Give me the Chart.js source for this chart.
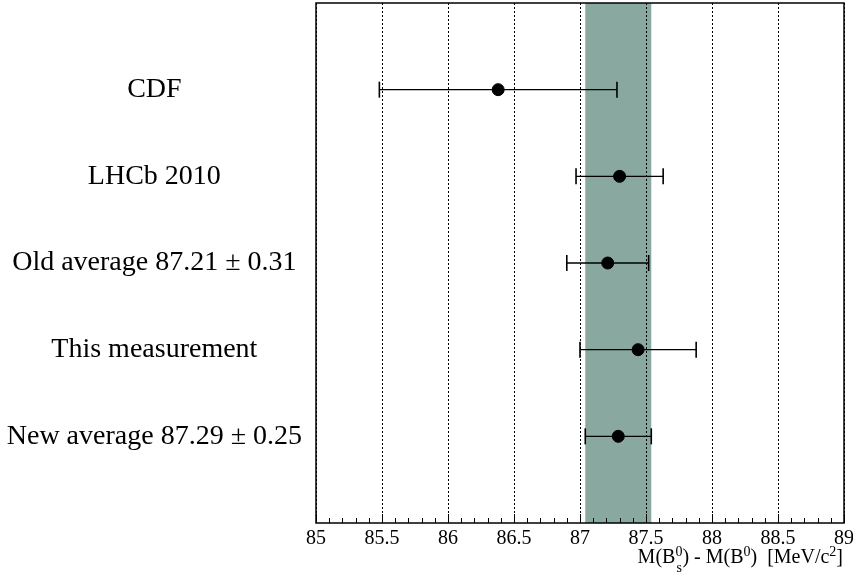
<!DOCTYPE html>
<html>
<head>
<meta charset="utf-8">
<script src="https://cdn.jsdelivr.net/npm/chart.js@4.4.1/dist/chart.umd.min.js"></script>
<style>
  html, body { margin: 0; padding: 0; background: #fff; }
  #wrap { width: 853px; height: 576px; }
</style>
</head>
<body>
<div id="wrap"><canvas id="grafico"></canvas></div>
<script>
// datos
const etiquetas = ['CDF', 'LHCb 2010', 'Old average 87.21 \u00b1 0.31', 'This measurement', 'New average 87.29 \u00b1 0.25'];
const valores = [86.38, 87.30, 87.21, 87.44, 87.29];
const errores = [0.90, 0.33, 0.31, 0.44, 0.25];
const filas = [1, 2, 3, 4, 5];
const banda = [87.04, 87.54];
const marcasX = [85, 85.5, 86, 86.5, 87, 87.5, 88, 88.5, 89];

const serif = "'Liberation Serif', 'DejaVu Serif', serif";

// barras de error: un dataset por medida
const barrasError = valores.map((v, i) => ({
    type: 'line',
    data: [{ x: v - errores[i], y: filas[i] }, { x: v + errores[i], y: filas[i] }],
    borderColor: '#000',
    borderWidth: 1.3,
    pointStyle: 'line',
    rotation: 90,
    pointRadius: 8,
    pointBorderWidth: 1.6,
    pointBorderColor: '#000',
    fill: false,
    order: 2
}));

const puntos = {
    type: 'scatter',
    data: valores.map((v, i) => ({ x: v, y: filas[i] })),
    backgroundColor: '#000',
    borderColor: '#000',
    pointRadius: 6,
    order: 1
};

// texto con sub y superindices
function dibujarTitulo(ctx, xDerecha, base) {
    const partes = [
        ['M(B', 0], ['0', 1], [') - M(B', 0], ['0', 1], [')  [MeV/c', 0], ['2', 1], [']', 0]
    ];
    const grande = "20px " + serif;
    const chico = "14px " + serif;
    let ancho = 0;
    partes.forEach(p => {
        ctx.font = p[1] ? chico : grande;
        ancho += ctx.measureText(p[0]).width;
    });
    let x = xDerecha - ancho;
    ctx.fillStyle = '#000';
    ctx.textBaseline = 'alphabetic';
    ctx.textAlign = 'left';
    partes.forEach((p, i) => {
        ctx.font = p[1] ? chico : grande;
        ctx.fillText(p[0], x, p[1] ? base - 7 : base);
        if (i === 1) ctx.fillText('s', x + 1, base + 9);
        x += ctx.measureText(p[0]).width;
    });
}

const pluginBanda = {
    id: 'banda',
    beforeDraw(chart) {
        const { ctx, chartArea, scales } = chart;
        const x0 = scales.x.getPixelForValue(banda[0]);
        const x1 = scales.x.getPixelForValue(banda[1]);
        ctx.save();
        ctx.fillStyle = '#88a8a0';
        ctx.fillRect(x0, chartArea.top, x1 - x0, chartArea.bottom - chartArea.top);
        ctx.restore();
    },
    afterDraw(chart) {
        const { ctx, chartArea, scales } = chart;
        ctx.save();
        ctx.strokeStyle = '#000';
        ctx.lineWidth = 1;
        // marcas menores y mayores hacia dentro
        for (let k = 0; k <= 40; k++) {
            const v = 85 + k * 0.1;
            const px = Math.round(scales.x.getPixelForValue(v)) + 0.5;
            const largo = (k % 5 === 0) ? 9 : 5;
            ctx.beginPath();
            ctx.moveTo(px, chartArea.bottom);
            ctx.lineTo(px, chartArea.bottom - largo);
            ctx.stroke();
        }
        ctx.lineWidth = 1.5;
        ctx.strokeRect(chartArea.left, chartArea.top, chartArea.right - chartArea.left, chartArea.bottom - chartArea.top);
        dibujarTitulo(ctx, chartArea.right - 1, 563);
        ctx.restore();
    }
};

new Chart(document.getElementById('grafico'), {
    data: { datasets: [...barrasError, puntos] },
    options: {
        responsive: true,
        maintainAspectRatio: false,
        animation: false,
        layout: { autoPadding: false, padding: { top: 3, right: 9, bottom: 0, left: 0 } },
        plugins: { legend: { display: false }, tooltip: { enabled: false } },
        scales: {
            x: {
                type: 'linear',
                min: 85,
                max: 89,
                afterBuildTicks(scale) { scale.ticks = marcasX.map(v => ({ value: v })); },
                afterFit(scale) {
                    scale.height = 53;
                    scale.paddingLeft = 0;
                    scale.paddingRight = 0;
                },
                ticks: {
                    color: '#000',
                    font: { family: serif, size: 20 },
                    padding: 4,
                    callback: v => String(v)
                },
                grid: {
                    color: '#000',
                    lineWidth: 1,
                    drawTicks: false
                },
                border: { display: false, dash: [2, 2] }
            },
            y: {
                type: 'linear',
                min: 0,
                max: 6,
                reverse: true,
                afterBuildTicks(scale) { scale.ticks = filas.map(v => ({ value: v })); },
                afterFit(scale) {
                    scale.width = 316;
                    scale.paddingTop = 0;
                    scale.paddingBottom = 0;
                },
                ticks: {
                    color: '#000',
                    font: { family: serif, size: 28 },
                    crossAlign: 'center',
                    padding: 14,
                    callback: v => etiquetas[filas.indexOf(v)] || ''
                },
                grid: { display: false, drawTicks: false },
                border: { display: false }
            }
        }
    },
    plugins: [pluginBanda]
});
</script>
</body>
</html>
